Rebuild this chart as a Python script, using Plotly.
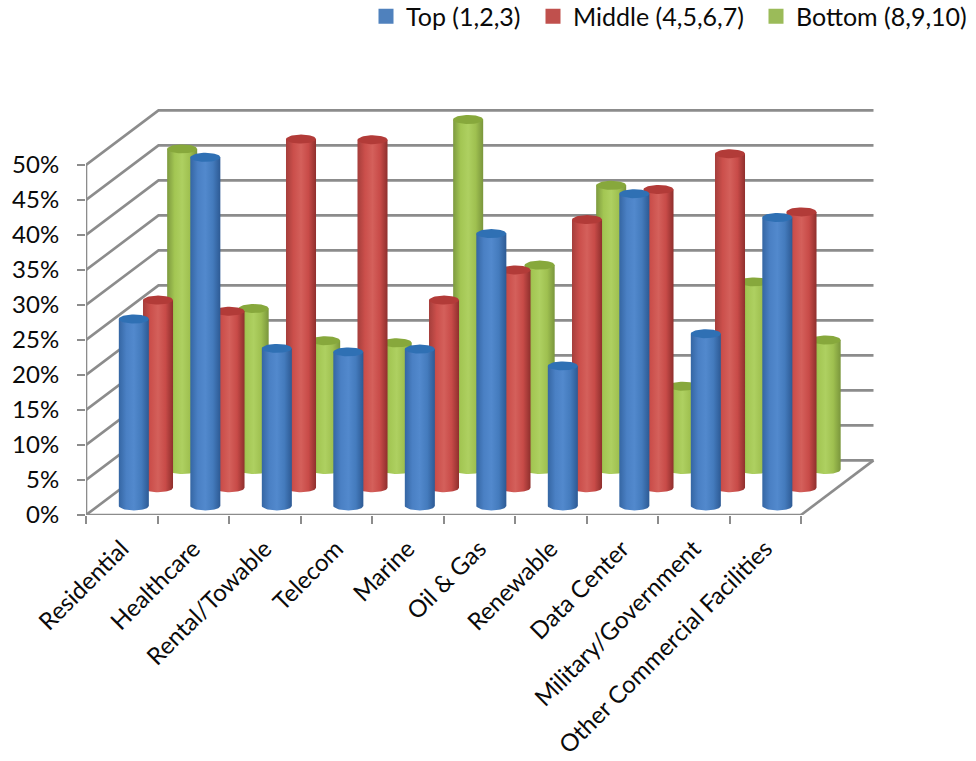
import numpy as np
import plotly.graph_objects as go

categories = ["Residential", "Healthcare", "Rental/Towable", "Telecom", "Marine",
              "Oil & Gas", "Renewable", "Data Center", "Military/Government",
              "Other Commercial Facilities"]
top_values = [26.7, 49.8, 22.5, 22.0, 22.4, 38.9, 20.0, 44.6, 24.6, 41.2]
middle_values = [26.8, 25.2, 49.8, 49.7, 26.8, 31.1, 38.3, 42.6, 47.7, 39.4]
bottom_values = [45.8, 23.0, 18.4, 18.1, 50.0, 29.2, 40.6, 11.9, 26.8, 18.5]
y_ticks = [0, 5, 10, 15, 20, 25, 30, 35, 40, 45, 50]
y_tick_labels = ["0%", "5%", "10%", "15%", "20%", "25%", "30%", "35%", "40%", "45%", "50%"]

# Oblique projection: one full step of depth moves this far along each axis
DEPTH_X = 1.014
DEPTH_Y = 7.8
RADIUS_X = 0.21
RADIUS_Y = 0.64
AXIS_GREY = "#8c8c8c"
FONT = "Lato"
TEXT_COLOR = "#0a0a0a"

series = [
    dict(name="Bottom (8,9,10)", values=bottom_values, depth=5 / 6, swatch="#9BBB59", cap="#87a83c",
         ramp=["#7d9a3f", "#a3c653", "#aed061", "#9fc050", "#7a963c"], legend="legend3"),
    dict(name="Middle (4,5,6,7)", values=middle_values, depth=1 / 2, swatch="#C0504D", cap="#b23b38",
         ramp=["#a53e3b", "#cb4f4b", "#d4605b", "#c84b48", "#8f2f2d"], legend="legend2"),
    dict(name="Top (1,2,3)", values=top_values, depth=1 / 6, swatch="#4F81BD", cap="#2f70b4",
         ramp=["#3566a3", "#4a80c4", "#5289cd", "#447bbd", "#2d5a94"], legend="legend"),
]

fig = go.Figure()


def wall_line(xs, ys, width=2.6):
    fig.add_trace(go.Scatter(x=xs, y=ys, mode="lines", showlegend=False, hoverinfo="skip",
                             cliponaxis=False, line=dict(color=AXIS_GREY, width=width)))


# Side wall and back wall gridlines
for v in y_ticks:
    wall_line([0, DEPTH_X, 10 + DEPTH_X], [v, v + DEPTH_Y, v + DEPTH_Y])

# Floor edges and the two front axes
wall_line([10, 10 + DEPTH_X], [0, DEPTH_Y])
wall_line([0, 0, 10], [50, 0, 0])

# Cylinders, furthest row first so nearer rows paint over it
angle = np.linspace(0, np.pi, 25)
for s in series:
    stops = np.linspace(0, 1, len(s["ramp"]))
    scale = [[float(p), c] for p, c in zip(stops, s["ramp"])]
    for i, value in enumerate(s["values"]):
        cx = i + 0.5 + s["depth"] * DEPTH_X
        base = s["depth"] * DEPTH_Y
        top = base + value
        # Body: up the left side, across the top, round the lower rim
        body_x = np.concatenate([[cx - RADIUS_X, cx + RADIUS_X], cx + RADIUS_X * np.cos(angle), [cx - RADIUS_X]])
        body_y = np.concatenate([[top, top], base - RADIUS_Y * np.sin(angle), [top]])
        fig.add_trace(go.Scatter(
            x=body_x, y=body_y, mode="lines", fill="toself", line=dict(width=0),
            fillgradient=dict(type="horizontal", colorscale=scale, start=cx - RADIUS_X, stop=cx + RADIUS_X),
            showlegend=False, hoverinfo="skip", cliponaxis=False))
        # Elliptical cap on the top of the body
        full = np.linspace(0, 2 * np.pi, 49)
        fig.add_trace(go.Scatter(
            x=cx + RADIUS_X * np.cos(full), y=top + RADIUS_Y * np.sin(full), mode="lines",
            fill="toself", fillcolor=s["cap"], line=dict(width=0),
            showlegend=False, hoverinfo="skip", cliponaxis=False))

# Legend swatches, one legend per series so each entry can sit in its own spot
for s in series:
    fig.add_trace(go.Scatter(x=[None], y=[None], mode="markers", name=s["name"], legend=s["legend"],
                             marker=dict(symbol="square", size=15, color=s["swatch"])))

legend_style = dict(orientation="h", xanchor="left", yanchor="middle", bgcolor="rgba(0,0,0,0)",
                    font=dict(family=FONT, size=25, color=TEXT_COLOR), itemsizing="trace", itemwidth=30,
                    indentation=-5, xref="container", yref="container", borderwidth=0)
legend_y = 1 - 16.5 / 761

fig.update_layout(
    width=976, height=761, autosize=False,
    margin=dict(l=86, r=76, t=60, b=246, autoexpand=False),
    paper_bgcolor="white", plot_bgcolor="white",
    font=dict(family=FONT, size=24, color=TEXT_COLOR),
    legend=dict(x=371 / 976, y=legend_y, **legend_style),
    legend2=dict(x=538 / 976, y=legend_y, **legend_style),
    legend3=dict(x=761 / 976, y=legend_y, **legend_style),
    xaxis=dict(range=[0, 814 / 71.5], showgrid=False, zeroline=False, showline=False,
               tickmode="array", tickvals=[i + 0.5 for i in range(10)], ticktext=categories,
               tickangle=-45, ticks="", ticklabelstandoff=14, tickfont=dict(size=24),
               minor=dict(tickmode="array", tickvals=list(range(11)), ticks="outside", ticklen=8,
                          tickwidth=1.5, tickcolor=AXIS_GREY, showgrid=False)),
    yaxis=dict(range=[0, 65], showgrid=False, zeroline=False, showline=False,
               tickmode="array", tickvals=y_ticks, ticktext=y_tick_labels, ticks="outside", ticklen=8,
               tickwidth=1.5, tickcolor=AXIS_GREY, ticklabelstandoff=13),
)

fig.write_html("out.html")
